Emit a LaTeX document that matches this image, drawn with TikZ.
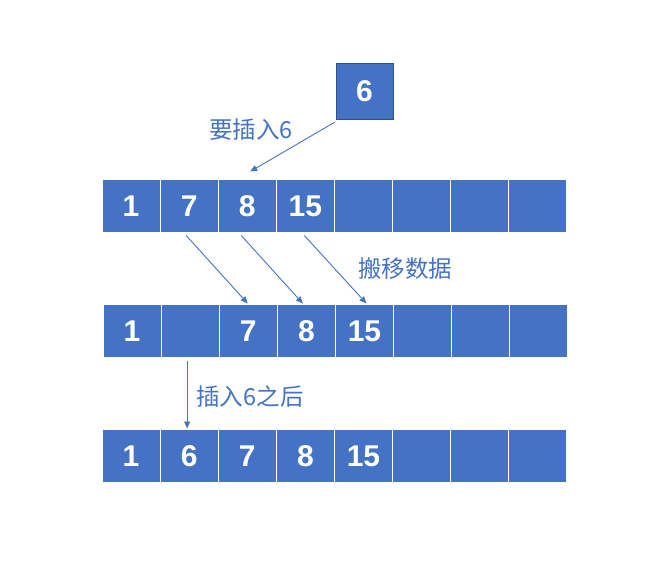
\documentclass[tikz,border=0pt]{standalone}
\usepackage{fontspec}
\setmainfont{Liberation Sans}
\newfontfamily\cjk{Noto Sans CJK SC}
\usetikzlibrary{arrows.meta,calc}
\definecolor{cellblue}{HTML}{4472C4}
\definecolor{boxedge}{HTML}{2F528F}
\tikzset{
  cell/.style={fill=cellblue, draw=white, line width=1pt, minimum width=58.1pt, minimum height=53pt,
    inner sep=0pt, outer sep=0pt, text=white, font=\fontsize{30}{30}\selectfont\bfseries},
  newbox/.style={fill=cellblue, draw=boxedge, line width=1pt, minimum width=57pt, minimum height=56pt,
    inner sep=0pt, outer sep=0pt, text=white, font=\fontsize{30}{30}\selectfont\bfseries},
  arr/.style={draw=cellblue, line width=0.9pt, -{Triangle[length=7pt,width=6pt]}},
  lbl/.style={text=cellblue, font=\cjk\fontsize{23.5}{23.5}\selectfont, inner sep=0pt}
}
\begin{document}
\begin{tikzpicture}[x=1pt,y=-1pt]
\useasboundingbox (0,0) rectangle (668,578);
\node[newbox] (box6) at (364.5,91) {6};
% row 1
\foreach \i/\t in {1/1,2/7,3/8,4/15,5/,6/,7/,8/}{
  \node[cell] (r1c\i) at ({102+58.1*(\i-0.5)},206) {\t};
}
% row 2
\foreach \i/\t in {1/1,2/,3/7,4/8,5/15,6/,7/,8/}{
  \node[cell] (r2c\i) at ({103+58.1*(\i-0.5)},331) {\t};
}
% row 3
\foreach \i/\t in {1/1,2/6,3/7,4/8,5/15,6/,7/,8/}{
  \node[cell] (r3c\i) at ({102+58.1*(\i-0.5)},456) {\t};
}
\node[lbl] (l1) at (251,130) {要插入6};
\node[lbl] (l2) at (405,269) {搬移数据};
\node[lbl] (l3) at (250,397) {插入6之后};
\draw[arr] ($(box6.south west)+(-1,3)$) -- ($(r1c3.north)+(3,-8)$);
\draw[arr] ($(r1c2.south)+(-3,3)$) -- ($(r2c3.north)+(-0.5,-1)$);
\draw[arr] ($(r1c3.south)+(-6,3)$) -- ($(r2c4.north)+(-3.5,-1)$);
\draw[arr] ($(r1c4.south)+(-1,3)$) -- ($(r2c5.north)+(2,-1)$);
\draw[arr] ($(r2c2.south)+(-3,3)$) -- ($(r3c2.north)+(-2,-1)$);
\end{tikzpicture}
\end{document}
